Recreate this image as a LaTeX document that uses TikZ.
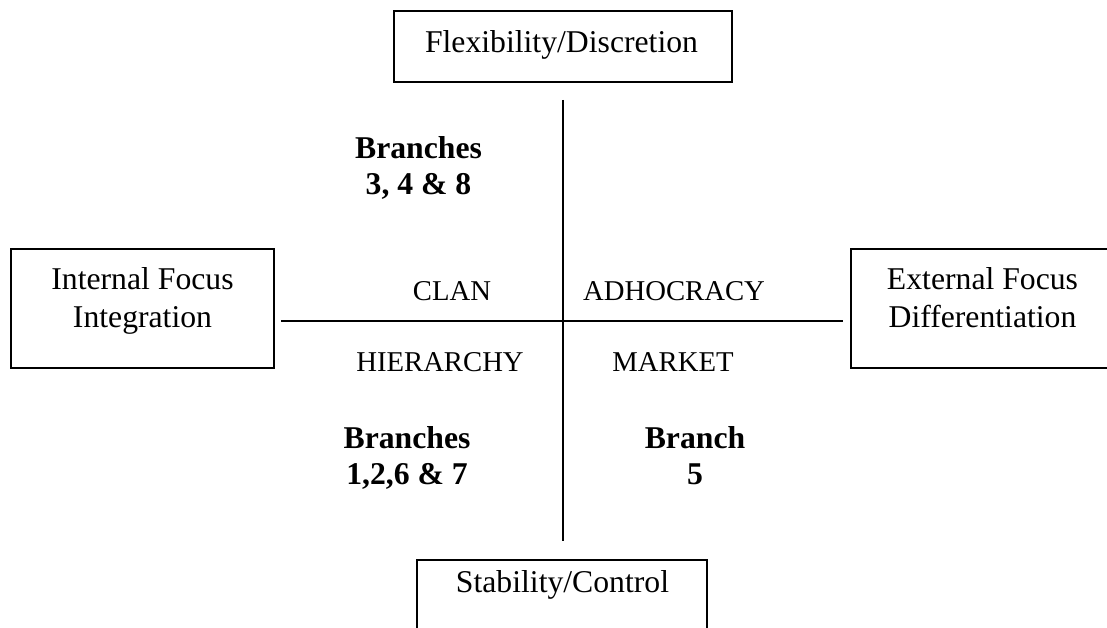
\documentclass[tikz,border=0pt]{standalone}
\usepackage{fontspec}
\setmainfont{Liberation Serif}
\begin{document}
\begin{tikzpicture}[x=1pt,y=-1pt,
  boxshape/.style={draw, line width=2pt, inner sep=0pt},
  lab/.style={font=\fontsize{31.7}{37.5}\selectfont, inner sep=0pt, align=center, anchor=base},
  quad/.style={font=\fontsize{28.7}{34}\selectfont, inner sep=0pt, anchor=base},
  boldlab/.style={lab, font=\fontsize{31.7}{35.5}\selectfont\bfseries},
  axis/.style={line width=2pt}]
\useasboundingbox (0,0) rectangle (1107,628);
% boxes
\node[boxshape, minimum width=338pt, minimum height=71pt] (topbox) at (563,46.5) {};
\node[boxshape, minimum width=263pt, minimum height=119pt] (leftbox) at (142.5,308.5) {};
\node[boxshape, minimum width=263pt, minimum height=119pt] (rightbox) at (982.5,308.5) {};
\node[boxshape, minimum width=290pt, minimum height=71pt] (botbox) at (562,595.5) {};
% box texts (multi-line nodes are placed by the baseline of their last line)
\node[lab] (toptext) at (561.5,53) {Flexibility/Discretion};
\node[lab] (lefttext) at (142.5,327) {Internal Focus\\Integration};
\node[lab] (righttext) at (982.5,327) {External Focus\\Differentiation};
\node[lab] (bottext) at (562.5,592) {Stability/Control};
% axes
\coordinate (vtop) at (563,100);
\coordinate (vbot) at (563,541);
\coordinate (hleft) at (281,321);
\coordinate (hright) at (843,321);
\draw[axis] (vtop) -- (vbot);
\draw[axis] (hleft) -- (hright);
% quadrant labels
\node[quad] (clan) at (452,300.5) {CLAN};
\node[quad] (adhoc) at (674,300.5) {ADHOCRACY};
\node[quad] (hier) at (440,371.5) {HIERARCHY};
\node[quad] (market) at (673,371.5) {MARKET};
% branch labels
\node[boldlab] (b348) at (418.5,194.5) {Branches\\3, 4 \& 8};
\node[boldlab] (b1267) at (407,484) {Branches\\1,2,6 \& 7};
\node[boldlab] (b5) at (695,484) {Branch\\5};
\end{tikzpicture}
\end{document}
